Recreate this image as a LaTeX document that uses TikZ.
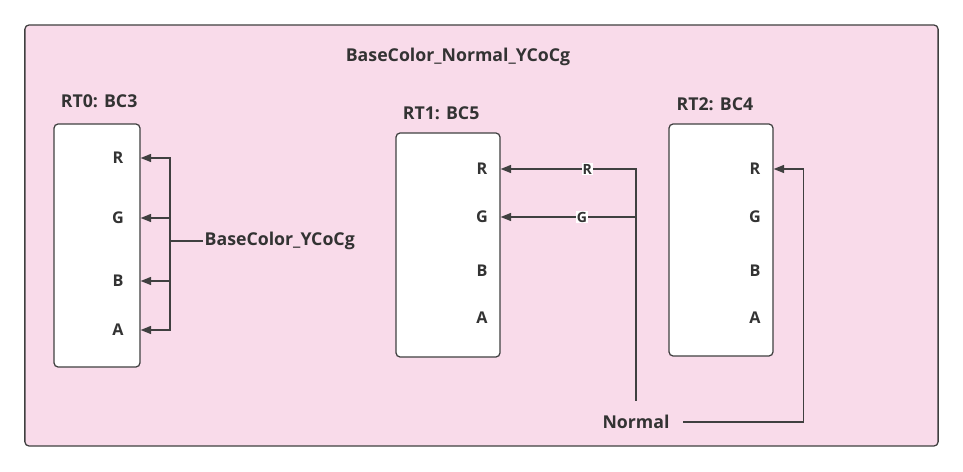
\documentclass[tikz,border=0pt]{standalone}
\usepackage{fontspec}
\setmainfont{Open Sans}
\usetikzlibrary{arrows.meta,positioning,calc}
\definecolor{panel}{HTML}{F9DBEA}
\definecolor{edge}{HTML}{404040}
\definecolor{ink}{HTML}{333333}

\begin{document}
\begin{tikzpicture}[x=0.025cm, y=-0.025cm, font=\bfseries\fontsize{12.6}{14}\selectfont, text=ink,
  frame/.style={draw=edge, line width=0.9pt, rounded corners=3pt, fill=panel, minimum width=22.825cm, minimum height=10.525cm},
  rtbox/.style={draw=edge, line width=0.9pt, rounded corners=3pt, fill=white},
  ttl/.style={inner sep=0pt, anchor=south west},
  chan/.style={font=\bfseries\fontsize{11.5}{13}\selectfont, inner sep=0pt},
  tag/.style={fill=white, inner sep=0.5pt, font=\bfseries\fontsize{10}{11}\selectfont},
  wire/.style={draw=edge, line width=0.9pt},
  arr/.style={wire, -{Triangle[length=2.6mm, width=2mm]}}]
\useasboundingbox (0,0) rectangle (963,472);
\node[frame] (panel) at (481.5,235.5) {};
\node (title) at (458,57) {BaseColor\_Normal\_YCoCg};
% render targets
\node[rtbox, minimum width=2.15cm, minimum height=6.075cm] (rt0) at (97,245.5) {};
\node[rtbox, minimum width=2.6cm, minimum height=5.6cm] (rt1) at (448,245) {};
\node[rtbox, minimum width=2.6cm, minimum height=5.8cm] (rt2) at (721,240) {};
\node[ttl, above right=0.38cm and 0.18cm of rt0.north west] (t0) {RT0: BC3};
\node[ttl, above right=0.3cm and 0.18cm of rt1.north west] (t1) {RT1: BC5};
\node[ttl, above right=0.3cm and 0.2cm of rt2.north west] (t2) {RT2: BC4};
\node[chan] (r0) at (118,158) {R}; \node[chan] (g0) at (118,218) {G};
\node[chan] (b0) at (118,281) {B}; \node[chan] (a0) at (118,330) {A};
\node[chan] (r1) at (482,169) {R}; \node[chan] (g1) at (482,217) {G};
\node[chan] (b1) at (482,271) {B}; \node[chan] (a1) at (482,318) {A};
\node[chan] (r2) at (755,169) {R}; \node[chan] (g2) at (755,217) {G};
\node[chan] (b2) at (755,271) {B}; \node[chan] (a2) at (755,318) {A};
% sources
\node[anchor=west, inner sep=1pt] (bc) at (203,241) {BaseColor\_YCoCg};
\coordinate (bus0) at (170,241);
\node[minimum width=2.35cm, minimum height=1.05cm, inner sep=0pt] (normal) at (636,422) {Normal};
\draw[wire] (bc.west) -- (bus0);
\draw[arr] (bus0) |- (rt0.east |- r0); \draw[arr] (bus0) |- (rt0.east |- g0);
\draw[arr] (bus0) |- (rt0.east |- b0); \draw[arr] (bus0) |- (rt0.east |- a0);
\draw[arr] (normal.north) |- node[tag, pos=0.68] {R} (rt1.east |- r1);
\draw[arr] (normal.north) |- node[tag, pos=0.7] {G} (rt1.east |- g1);
\draw[arr] (normal.east) -- ++(120,0) |- (rt2.east |- r2);
\end{tikzpicture}
\end{document}
